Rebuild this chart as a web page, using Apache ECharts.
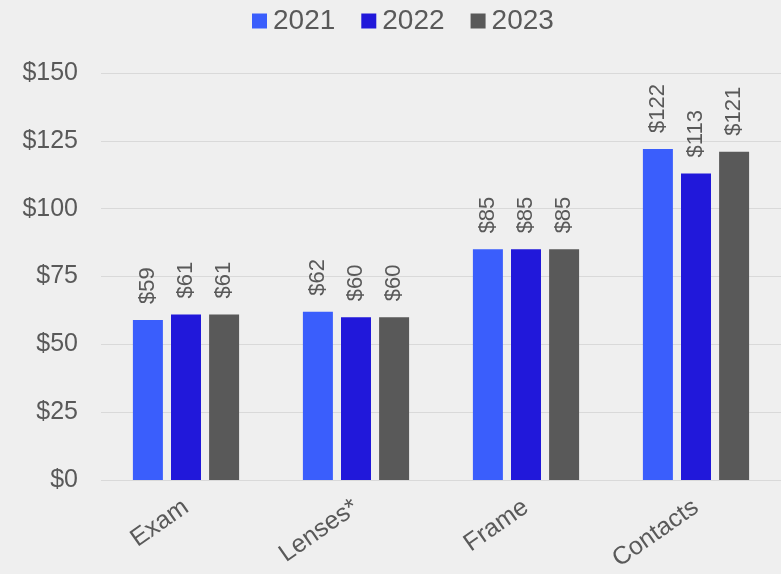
<!DOCTYPE html>
<html>
<head>
<meta charset="utf-8">
<script src="https://cdn.jsdelivr.net/npm/echarts@6/dist/echarts.min.js"></script>
<style>
  html, body { margin: 0; padding: 0; background: #efefef; }
  #chart { width: 781px; height: 574px; }
</style>
</head>
<body>
<div id="chart"></div>
<script>
// Average out-of-pocket costs by item and year
const categories = ['Exam', 'Lenses*', 'Frame', 'Contacts'];
const years = ['2021', '2022', '2023'];
const values2021 = [59, 62, 85, 122];
const values2022 = [61, 60, 85, 113];
const values2023 = [61, 60, 85, 121];
const yearColors = ['#3a5efc', '#2118da', '#595959'];

const seriesValues = [values2021, values2022, values2023];
const textColor = '#595959';
const font = 'Liberation Sans, Arial, sans-serif';

const chart = echarts.init(document.getElementById('chart'), null, { renderer: 'canvas' });
chart.setOption({
  backgroundColor: '#efefef',
  animation: false,
  legend: {
    top: 2,
    left: 247,
    itemWidth: 15,
    itemHeight: 15,
    itemGap: 26,
    icon: 'rect',
    textStyle: { color: textColor, fontSize: 28, fontFamily: font, padding: [0, 0, 0, 1] },
    data: years
  },
  grid: { left: 101, right: 0, top: 73, bottom: 94 },
  xAxis: {
    type: 'category',
    data: categories,
    axisLine: { show: false },
    axisTick: { show: false },
    axisLabel: {
      rotate: 35,
      color: textColor,
      fontSize: 25,
      fontFamily: font,
      margin: 25
    }
  },
  yAxis: {
    type: 'value',
    min: 0,
    max: 150,
    interval: 25,
    axisLine: { show: false },
    axisTick: { show: false },
    splitLine: { lineStyle: { color: '#d9d9d9', width: 1 } },
    axisLabel: {
      color: textColor,
      fontSize: 25,
      fontFamily: font,
      margin: 23,
      formatter: v => '$' + v
    }
  },
  series: years.map((y, i) => ({
    name: y,
    type: 'bar',
    data: seriesValues[i],
    barWidth: 30,
    barGap: '27%',
    itemStyle: { color: yearColors[i] },
    label: {
      show: true,
      position: 'top',
      rotate: 90,
      align: 'left',
      verticalAlign: 'middle',
      distance: 16,
      color: textColor,
      fontSize: 22,
      fontFamily: font,
      formatter: p => '$' + p.value
    }
  }))
});
</script>
</body>
</html>
